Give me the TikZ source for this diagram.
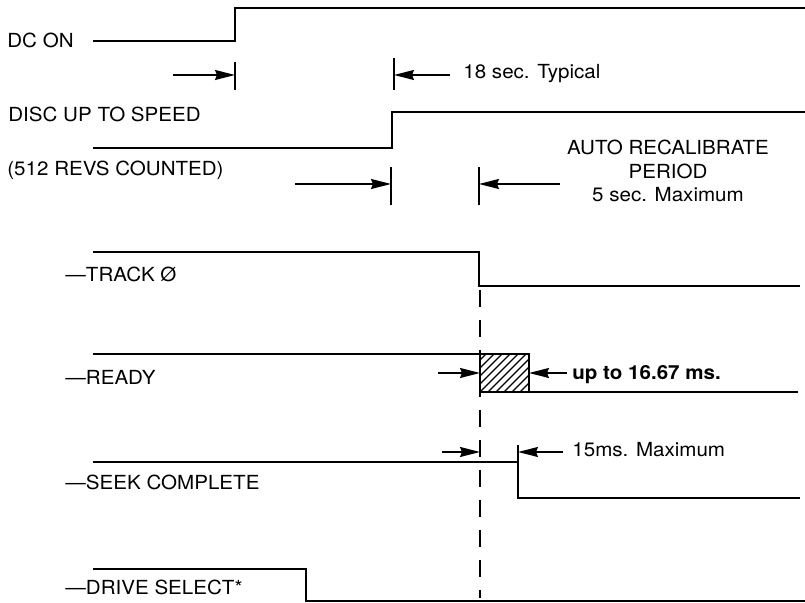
\documentclass[tikz,border=0pt]{standalone}
\usepackage{fontspec}
\setmainfont{TeX Gyre Heros}[FakeStretch=1.06]
\usetikzlibrary{arrows.meta}
\tikzset{
    sig/.style={line width=1pt},
    tick/.style={line width=0.8pt},
    dim/.style={line width=0.8pt,-{Stealth[length=10pt,width=5pt,inset=1pt]}},
    lbl/.style={inner sep=0pt,anchor=base west,font=\fontsize{9.7}{11.75}\selectfont}
}
\begin{document}
\begin{tikzpicture}[x=0.5pt,y=-0.5pt]
    \useasboundingbox (0,0) rectangle (805,603);
    % DC ON
    \node[lbl] (dcon) at (7,48) {DC ON};
    \draw[sig] (93,41) -- (235,41) -- (235,8) -- (805,8);
    \coordinate (T1a) at (235,62);
    \coordinate (T1b) at (235,90);
    \coordinate (T2a) at (394,58);
    \coordinate (T2b) at (394,90);
    \coordinate (A1) at (173,75);
    \coordinate (A2) at (450,75);
    \draw[tick] (T1a) -- (T1b);
    \draw[tick] (T2a) -- (T2b);
    \draw[dim] (A1) -- (T1a |- A1);
    \draw[dim] (A2) -- (T2a |- A2);
    \node[lbl] (typ) at (463,79) {18 sec. Typical};
    % DISC UP TO SPEED
    \node[lbl] (disc) at (8,122) {DISC UP TO SPEED};
    \node[lbl] (revs) at (7,176) {(512 REVS COUNTED)};
    \draw[sig] (93,148) -- (392,148) -- (392,112) -- (805,112);
    \coordinate (T3a) at (391,167);
    \coordinate (T3b) at (391,205);
    \coordinate (T4a) at (479,167);
    \coordinate (T4b) at (479,205);
    \coordinate (A3) at (295,184);
    \coordinate (A4) at (560,184);
    \draw[tick] (T3a) -- (T3b);
    \draw[tick] (T4a) -- (T4b);
    \draw[dim] (A3) -- (T3a |- A3);
    \draw[dim] (A4) -- (T4a |- A4);
    \node[lbl,anchor=base,align=center] (auto) at (668,202)
        {AUTO RECALIBRATE\\PERIOD\\5 sec. Maximum};
    % -TRACK 0
    \node[lbl] (trk) at (65,282) {\textemdash TRACK Ø};
    \draw[sig] (93,252) -- (479,252) -- (479,286) -- (800,286);
    \coordinate (D0) at (480,290);
    \coordinate (D1) at (480,598);
    \draw[tick,dash pattern=on 8.5pt off 6.5pt] (D0) -- (D1);
    % -READY
    \node[lbl] (rdy) at (65,385) {\textemdash READY};
    \draw[sig] (93,354) -- (480,354);
    \coordinate (B0) at (480,354);
    \coordinate (B1) at (529,392);
    \begin{scope}
        \clip (B0) rectangle (B1);
        \foreach \k in {0,8,...,96}
            \draw[line width=0.6pt] (480+\k-40,392) -- (480+\k,352);
    \end{scope}
    \draw[sig] (B0) rectangle (B1);
    \draw[sig] (B1) -- (798,392);
    \coordinate (A5) at (438,373);
    \coordinate (A6) at (567,373);
    \draw[dim] (A5) -- (B0 |- A5);
    \draw[dim] (A6) -- (B1 |- A6);
    \node[lbl,font=\fontsize{9.7}{11.75}\selectfont\bfseries] (upto) at (572,380) {up to 16.67 ms.};
    % -SEEK COMPLETE
    \node[lbl] (seek) at (65,490) {\textemdash SEEK COMPLETE};
    \draw[sig] (93,462) -- (518,462) -- (518,498) -- (800,498);
    \coordinate (T5a) at (518,445);
    \draw[tick] (T5a) -- (518,462);
    \coordinate (A7) at (442,452);
    \coordinate (A8) at (563,452);
    \draw[dim] (A7) -- (D0 |- A7);
    \draw[dim] (A8) -- (T5a |- A8);
    \node[lbl] (max) at (572,457) {15ms. Maximum};
    % -DRIVE SELECT*
    \node[lbl] (drv) at (65,595) {\textemdash DRIVE SELECT*};
    \draw[sig] (93,569) -- (306,569) -- (306,601) -- (805,601);
\end{tikzpicture}
\end{document}
